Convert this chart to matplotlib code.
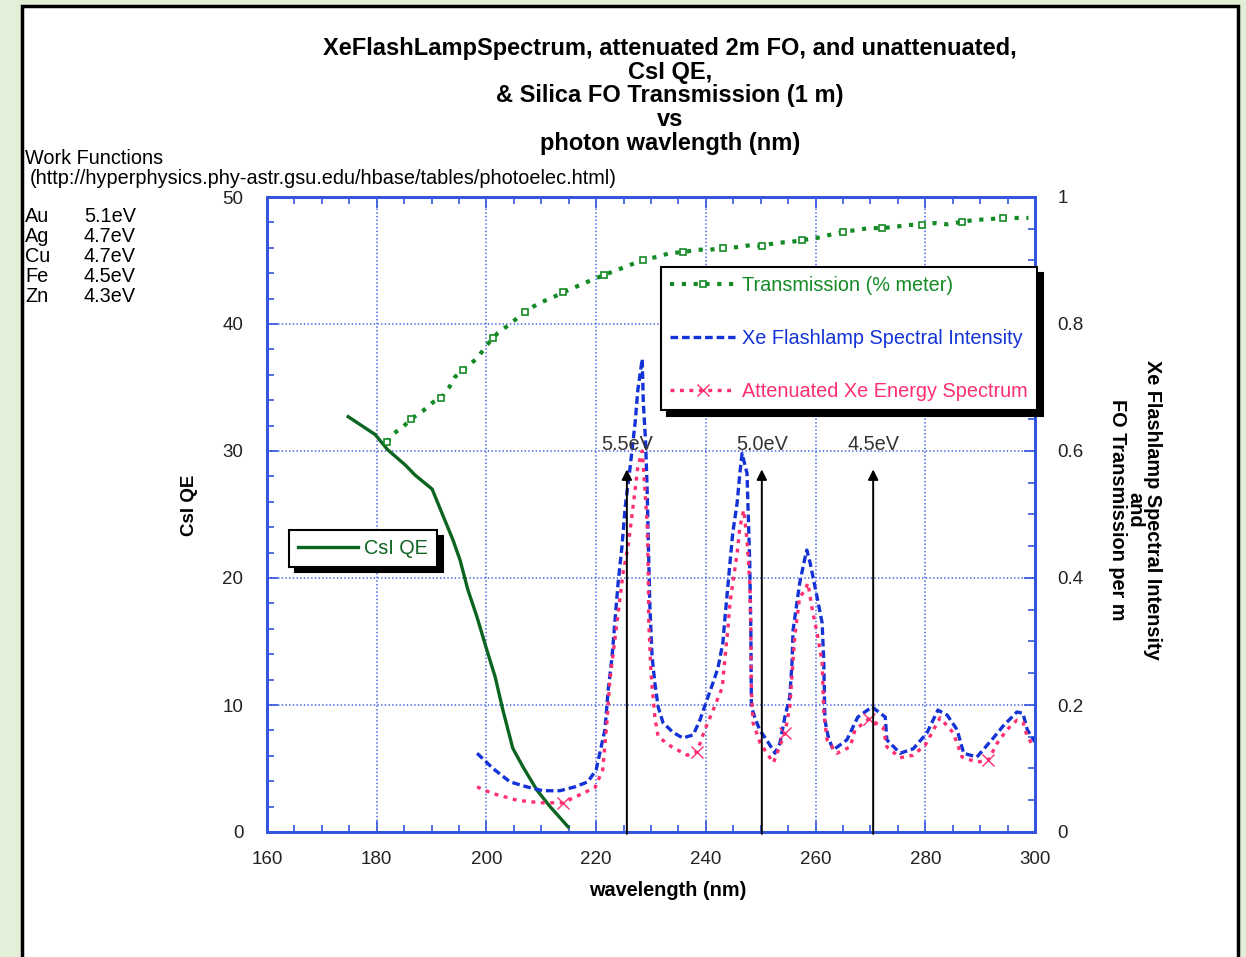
import matplotlib
matplotlib.use('Agg')
import matplotlib.pyplot as plt
import matplotlib.patches as mpatches
from matplotlib.ticker import MultipleLocator

plt.rcParams['font.family'] = ['Liberation Sans', 'DejaVu Sans']
plt.rcParams['lines.scale_dashes'] = False

# CsI QE (left axis)
wl_csi = [174.8, 179.7, 182.0, 185.2, 187.0, 190.1, 191.9, 193.9, 195.2, 196.6,
          198.3, 200.1, 201.6, 203.0, 204.8, 206.7, 209.2, 211.6, 214.9]
qe_csi = [32.7, 31.3, 30.1, 28.9, 28.1, 27.0, 25.1, 23.0, 21.4, 19.1,
          16.9, 14.3, 12.2, 9.6, 6.6, 5.1, 3.3, 2.0, 0.4]

# silica FO transmission per m (right axis)
wl_tr = [181.9, 183.0, 184.8, 186.2, 188.4, 190.3, 191.7, 193.2, 194.3, 195.7,
         198.3, 200.1, 201.2, 202.1, 204.3, 207.0, 209.6, 211.9, 214.0, 216.7,
         219.1, 221.4, 223.8, 226.5, 228.5, 231.3, 233.5, 235.8, 238.4, 240.8,
         243.1, 245.7, 248.0, 250.2, 252.9, 255.3, 257.5, 260.0, 262.4, 265.0,
         267.4, 269.7, 272.1, 274.5, 276.9, 279.4, 281.8, 284.0, 286.7, 289.1,
         291.5, 294.1, 296.5, 298.8]
trans = [0.614, 0.627, 0.638, 0.650, 0.663, 0.677, 0.683, 0.700, 0.717, 0.727,
         0.746, 0.767, 0.778, 0.786, 0.800, 0.819, 0.833, 0.841, 0.850, 0.860,
         0.869, 0.877, 0.885, 0.894, 0.901, 0.906, 0.912, 0.913, 0.917, 0.917,
         0.920, 0.921, 0.924, 0.923, 0.928, 0.929, 0.932, 0.935, 0.940, 0.945,
         0.948, 0.951, 0.951, 0.953, 0.956, 0.956, 0.959, 0.957, 0.961, 0.964,
         0.965, 0.967, 0.967, 0.967]

# Xe flashlamp spectral intensity
wl_xe = [198.3, 201.2, 204.3, 207.4, 210.3, 213.4, 216.1, 218.5, 220.0, 221.6,
         222.2, 222.9, 223.4, 224.0, 224.7, 225.3, 226.2, 227.1, 227.6, 228.4,
         228.6, 229.0, 229.3, 229.5, 229.8, 230.2, 230.7, 231.3, 232.2, 234.0,
         235.8, 237.7, 238.9, 240.4, 241.3, 242.2, 243.1, 243.5, 244.0, 244.4,
         244.9, 245.7, 246.2, 246.6, 247.5, 247.7, 248.0, 248.2, 248.3, 248.9,
         249.8, 251.3, 252.6, 253.5, 254.4, 255.3, 255.7, 255.9, 256.6, 257.1,
         258.1, 258.4, 259.0, 259.9, 261.2, 261.5, 261.7, 262.3, 263.2, 265.7,
         267.7, 270.3, 272.7, 273.0, 275.4, 277.8, 280.3, 282.3, 284.0, 285.8,
         287.0, 289.4, 292.4, 294.2, 296.7, 297.8, 298.6, 300.0]
xe = [0.124, 0.100, 0.079, 0.071, 0.065, 0.065, 0.071, 0.079, 0.098, 0.161,
      0.224, 0.276, 0.329, 0.392, 0.449, 0.512, 0.575, 0.644, 0.696, 0.745,
      0.676, 0.617, 0.539, 0.460, 0.354, 0.276, 0.235, 0.197, 0.172, 0.157,
      0.148, 0.153, 0.176, 0.213, 0.235, 0.258, 0.298, 0.339, 0.386, 0.424,
      0.471, 0.518, 0.565, 0.596, 0.565, 0.507, 0.424, 0.318, 0.197, 0.181,
      0.161, 0.142, 0.124, 0.140, 0.181, 0.213, 0.266, 0.318, 0.361, 0.392,
      0.433, 0.444, 0.424, 0.386, 0.329, 0.266, 0.176, 0.150, 0.129, 0.145,
      0.181, 0.197, 0.181, 0.145, 0.124, 0.131, 0.156, 0.192, 0.184, 0.161,
      0.124, 0.118, 0.148, 0.167, 0.189, 0.187, 0.161, 0.142]

# attenuated Xe energy spectrum
wl_att = [198.3, 201.0, 205.6, 209.8, 214.0, 217.6, 219.8, 221.2, 222.0, 222.5,
          223.4, 224.3, 224.9, 225.8, 226.5, 227.1, 227.6, 228.4, 229.3, 229.5,
          229.6, 230.0, 230.7, 231.3, 233.8, 236.6, 238.4, 239.8, 241.1, 243.0,
          243.5, 244.0, 244.4, 245.7, 246.2, 246.9, 247.5, 248.0, 248.2, 248.3,
          248.6, 249.9, 252.3, 254.4, 255.3, 256.2, 257.1, 258.1, 258.6, 259.5,
          260.3, 261.2, 261.5, 262.1, 263.9, 266.3, 267.2, 269.7, 272.3, 273.0,
          275.4, 277.8, 280.0, 282.7, 285.1, 286.7, 289.4, 291.5, 293.1, 294.9,
          296.7, 297.8, 298.6, 299.6]
att = [0.071, 0.061, 0.050, 0.046, 0.046, 0.061, 0.070, 0.098, 0.176, 0.239,
       0.302, 0.365, 0.408, 0.449, 0.496, 0.539, 0.575, 0.600, 0.487, 0.408,
       0.329, 0.250, 0.181, 0.150, 0.134, 0.121, 0.126, 0.161, 0.187, 0.228,
       0.276, 0.318, 0.361, 0.439, 0.480, 0.507, 0.460, 0.392, 0.318, 0.224,
       0.172, 0.140, 0.109, 0.156, 0.197, 0.307, 0.370, 0.381, 0.392, 0.345,
       0.313, 0.266, 0.187, 0.145, 0.124, 0.134, 0.161, 0.178, 0.165, 0.134,
       0.117, 0.121, 0.137, 0.180, 0.156, 0.118, 0.110, 0.113, 0.140, 0.161,
       0.176, 0.173, 0.150, 0.137]
att_marks = [214.0, 238.4, 254.4, 269.7, 291.5]

# photon energy arrows
ev_labels = ['5.5eV', '5.0eV', '4.5eV']
ev_wl = [225.6, 250.2, 270.5]
arrow_top = 0.571

metals = ['Au', 'Ag', 'Cu', 'Fe', 'Zn']
work_fn = ['5.1eV', '4.7eV', '4.7eV', '4.5eV', '4.3eV']

BLUE = '#1433d6'
PINK = '#ff2e6e'
GREEN = '#148a25'
DKGREEN = '#0b6420'
GRID = '#3d5ee8'
SPINE = '#3355dd'
FS = 14.3

fig = plt.figure(figsize=(12.46, 9.57), dpi=100)
fig.patch.set_facecolor('#e4efda')
fig.patches.append(mpatches.Rectangle((22/1246, -0.02), 1216/1246, 1.02 - 6/957,
                                      transform=fig.transFigure, fc='white',
                                      ec='black', lw=2.5, zorder=-10))

ax = fig.add_axes([267/1246, 1-832/957, 768/1246, 635/957])
ax2 = ax.twinx()

ax.plot(wl_csi, qe_csi, color=DKGREEN, lw=2.4, label='CsI QE')
ax.set_xlim(160, 300)
ax.set_ylim(0, 50)
ax2.set_ylim(0, 1)

tr_line, = ax2.plot(wl_tr, trans, color=GREEN, lw=3, dashes=(3, 5.5),
                    marker='s', ms=4, mfc='white', mec=GREEN, mew=1.2, markevery=3,
                    label='Transmission (% meter)')
xe_line, = ax2.plot(wl_xe, xe, color=BLUE, lw=2.4, dashes=(5.5, 2.8),
                    label='Xe Flashlamp Spectral Intensity')
mk = [i for i, w in enumerate(wl_att) if w in att_marks]
att_line, = ax2.plot(wl_att, att, color=PINK, lw=2.4, dashes=(2.8, 4),
                     marker='x', ms=9, mew=1, markevery=mk,
                     label='Attenuated Xe Energy Spectrum')

for w, lab in zip(ev_wl, ev_labels):
    ax2.annotate('', xy=(w, arrow_top), xytext=(w, -0.003),
                 arrowprops=dict(arrowstyle='-|>', color='black', lw=1.4,
                                 mutation_scale=15, shrinkA=0, shrinkB=0))
    ax2.text(w, 0.611, lab, ha='center', va='center', fontsize=FS, color='#333333')

ax.grid(True, which='major', color=GRID, linestyle=':', lw=1.1)
ax.xaxis.set_major_locator(MultipleLocator(20))
ax.xaxis.set_minor_locator(MultipleLocator(5))
ax.yaxis.set_major_locator(MultipleLocator(10))
ax.yaxis.set_minor_locator(MultipleLocator(2))
ax2.yaxis.set_minor_locator(MultipleLocator(0.05))
ax2.set_yticks([0, 0.2, 0.4, 0.6, 0.8, 1.0], ['0', '0.2', '0.4', '0.6', '0.8', '1'])

ax.tick_params(which='both', direction='in', top=True, right=False, color=SPINE,
               labelsize=13.5, labelcolor='#222222')
ax.tick_params(axis='x', pad=14)
ax.tick_params(axis='y', pad=17)
ax.tick_params(which='major', length=8, width=1.2)
ax.tick_params(which='minor', length=5, width=1.2)
ax2.tick_params(which='both', direction='in', color=SPINE, labelsize=13.5,
                labelcolor='#222222', pad=16)
ax2.tick_params(which='major', length=8, width=1.2)
ax2.tick_params(which='minor', length=5, width=1.2)
for a in (ax, ax2):
    for s in a.spines.values():
        s.set_color(SPINE)
        s.set_linewidth(2)

shadow = {'ox': 4, 'oy': -4, 'facecolor': 'black', 'edgecolor': 'black', 'alpha': 1}
leg1 = ax2.legend(handles=[tr_line, xe_line, att_line], loc='upper left',
                  bbox_to_anchor=(394/768, 565/635), borderaxespad=0, fontsize=FS,
                  frameon=True, fancybox=False, edgecolor='black', framealpha=1,
                  handlelength=3.3, handletextpad=0.35, labelspacing=1.72,
                  borderpad=0.45, numpoints=1, shadow=shadow)
leg1.get_frame().set_linewidth(1.5)
for t, c in zip(leg1.get_texts(), [GREEN, BLUE, PINK]):
    t.set_color(c)

leg2 = ax.legend(loc='upper left', bbox_to_anchor=(22/768, 302/635), borderaxespad=0,
                 fontsize=FS, frameon=True, fancybox=False, edgecolor='black',
                 framealpha=1, handlelength=3.0, handletextpad=0.35, borderpad=0.45,
                 shadow=shadow)
leg2.get_frame().set_linewidth(1.5)
leg2.get_texts()[0].set_color(DKGREEN)

fig.text(670/1246, 1-37/957,
         'XeFlashLampSpectrum, attenuated 2m FO, and unattenuated,\nCsI QE,\n'
         '& Silica FO Transmission (1 m)\nvs\nphoton wavlength (nm)',
         ha='center', va='top', fontsize=17, weight='bold', linespacing=1.04)
fig.text(668/1246, 1-891/957, 'wavelength (nm)', ha='center', va='center',
         fontsize=FS, weight='bold')
fig.text(190/1246, 1-505/957, 'CsI QE', ha='center', va='center', rotation=90,
         fontsize=13.5, weight='bold')
fig.text(1135/1246, 1-510/957,
         'Xe Flashlamp Spectral Intensity\nand\nFO Transmission per m',
         ha='center', va='center', rotation=270, fontsize=FS, weight='bold',
         multialignment='center', linespacing=0.9)

fig.text(25/1246, 1-158/957, 'Work Functions', ha='left', va='center', fontsize=FS)
fig.text(30/1246, 1-179/957, '(http://hyperphysics.phy-astr.gsu.edu/hbase/tables/photoelec.html)',
         ha='left', va='center', fontsize=FS)
for i, (m, v) in enumerate(zip(metals, work_fn)):
    y = 1 - (217 + 20*i)/957
    fig.text(25/1246, y, m, ha='left', va='center', fontsize=FS)
    fig.text(84/1246, y, v, ha='left', va='center', fontsize=FS)

fig.savefig('out.png', dpi=100, facecolor=fig.get_facecolor())
